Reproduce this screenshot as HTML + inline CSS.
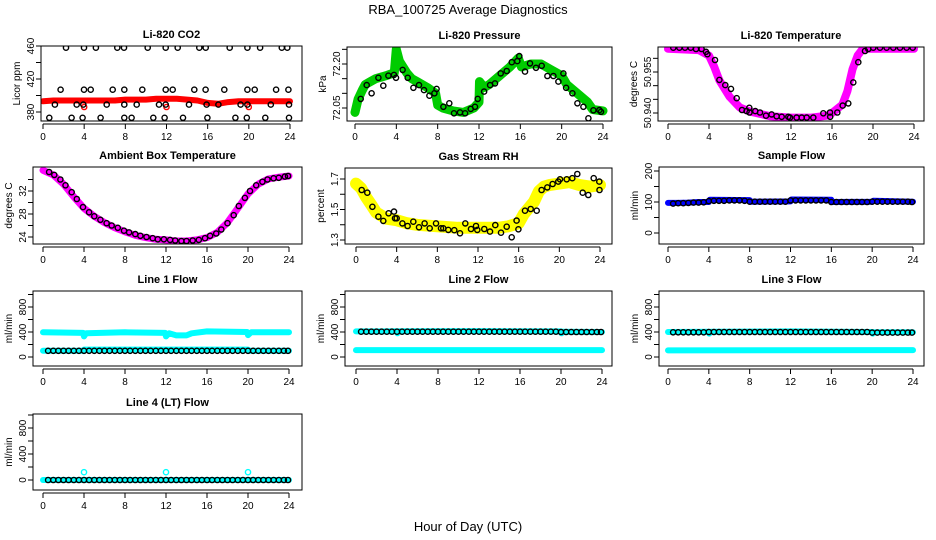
<!DOCTYPE html>
<html><head><meta charset="utf-8">
<style>
html,body{margin:0;padding:0;background:#fff;}
svg{display:block;font-family:"Liberation Sans",Arial,sans-serif;}
</style></head>
<body>
<svg id="chart" width="936" height="540" viewBox="0 0 936 540" xmlns="http://www.w3.org/2000/svg">
<text x="468" y="14" text-anchor="middle" font-size="13">RBA_100725  Average Diagnostics</text>
<text x="468" y="531" text-anchor="middle" font-size="13">Hour of Day (UTC)</text>
</svg>
<script>
const xTicks=[0,4,8,12,16,20,24];
const xTickLabels=["0","4","8","12","16","20","24"];

// CO2
const co2TraceH=[0,1,2,3,4,5,6,7,8,9,10,11,12,13,14,15,16,17,18,19,20,21,22,23,24];
const co2TraceV=[393,394,394,394,394,394,394,394,395,395,395,396,396,396,395,394,391,390,392,393,393,393,393,393,393];
const co2CircH=[2.23,3.98,5.14,7.22,7.87,10.17,11.92,13.09,15.19,15.81,18.14,19.86,21.09,23.2,23.74,
 1.71,3.98,4.63,6.77,7.9,9.65,11.92,12.6,14.7,15.8,17.62,19.86,20.57,22.65,23.84,
 1.16,3.27,3.92,6.19,7.9,9.1,11.27,11.92,14.19,15.9,17.04,19.2,19.86,22.13,23.9,
 0.61,2.78,3.85,5.6,7.9,8.61,10.72,11.82,13.6,15.97,18.69,19.8,21.6,23.9];
const co2CircV=[458,458,458,458,458,458,458,458,458,458,458,458,458,458,458,
 407,407,407,407,407,407,407,407,407,407,407,407,407,407,407,
 389,389,389,389,389,389,389,389,389,389,389,389,389,389,389,
 373,373,373,373,373,373,373,373,373,373,373,373,373,373];
const co2RedH=[4,12,20];
const co2RedV=[386,386,386];

// Pressure
const presTraceH=[0,0.3,0.7,1,1.5,2,3,3.8,4.0,4.3,5,5.5,6,7,7.8,8,8.5,9.5,10.5,11.5,12,12.05,12.5,13,14,15,15.8,16.1,17,18,19,20,20.5,21.5,22.5,23,24];
const presTraceV=[72.035,72.08,72.11,72.13,72.14,72.15,72.16,72.17,72.25,72.21,72.17,72.15,72.14,72.12,72.10,72.06,72.05,72.04,72.035,72.05,72.07,72.14,72.12,72.13,72.16,72.19,72.22,72.19,72.20,72.20,72.18,72.16,72.13,72.10,72.07,72.045,72.04];
const presCircH=[0.55,1.13,1.61,2.26,2.74,3.23,3.77,3.97,4.61,5.1,5.65,6.19,6.68,7.2,7.68,7.9,8.55,9.13,9.58,10.16,10.65,11.2,11.61,11.87,12.49,13.07,13.55,14.1,14.68,15.17,15.71,15.9,16.45,16.94,17.52,18.07,18.62,19.2,19.68,20.17,20.43,21.04,21.52,22.1,22.59,23.07,23.65,23.81];
const presCircV=[72.081,72.128,72.100,72.153,72.126,72.160,72.163,72.153,72.180,72.153,72.119,72.128,72.111,72.092,72.100,72.115,72.054,72.066,72.032,72.035,72.032,72.047,72.054,72.081,72.106,72.128,72.134,72.168,72.176,72.206,72.210,72.227,72.174,72.202,72.187,72.194,72.159,72.159,72.140,72.168,72.119,72.100,72.066,72.054,72.015,72.042,72.043,72.037];

// Temperature
const tempTraceH=[0,3,4,4.5,5,6,7,8,10,12,14,15.5,16,17,17.5,18,18.5,19,24];
const tempTraceV=[50.9635,50.963,50.961,50.957,50.952,50.946,50.942,50.9405,50.9388,50.9383,50.9383,50.939,50.940,50.943,50.948,50.956,50.961,50.9635,50.9635];
const tempCircH=[0.52,1.11,1.66,2.21,2.73,3.28,3.71,3.84,4.59,5.01,5.59,6.15,6.7,7.22,7.67,7.93,7.95,8.52,8.98,9.56,10.11,10.6,11.09,11.74,11.9,12.55,13.04,13.53,14.18,15.15,15.8,15.82,16.52,17.04,17.59,18.08,18.57,19.22,19.54,20.03,20.68,21.33,21.98,22.63,23.28,23.87];
const tempCircV=[50.9639,50.9639,50.9639,50.9639,50.9634,50.9634,50.9624,50.9615,50.9594,50.9521,50.9502,50.9488,50.9454,50.9411,50.9407,50.9419,50.9402,50.9407,50.9402,50.939,50.9395,50.9388,50.9386,50.9386,50.9383,50.9383,50.9383,50.9383,50.9383,50.9399,50.9402,50.9386,50.9402,50.9427,50.9435,50.9512,50.9586,50.9627,50.9634,50.9639,50.9639,50.9639,50.9639,50.9639,50.9639,50.9639];

// Ambient
const ambTraceH=[0,1,2,3,4,5,6,7,8,9,10,11,12,13,14,15,16,17,18,19,20,21,22,23,24];
const ambTraceV=[35.6,34.8,33.2,31.0,29.0,27.6,26.5,25.6,24.9,24.3,23.9,23.6,23.5,23.3,23.3,23.5,23.9,24.8,26.5,29.0,31.5,33.2,34.1,34.4,34.6];
const ambCircH=[0.6,1.1,1.7,2.2,2.8,3.3,3.9,4.5,5.0,5.6,6.2,6.7,7.3,7.9,8.4,9.0,9.5,10.1,10.7,11.2,11.8,12.4,12.9,13.5,14.0,14.6,15.2,15.8,16.3,16.9,17.4,18.0,18.6,19.1,19.7,20.2,20.8,21.4,21.9,22.5,23.0,23.6,23.9];
const ambCircV=[35.3,34.8,34.0,33.0,31.8,30.6,29.2,28.3,27.6,27.0,26.4,26.0,25.6,25.1,24.8,24.5,24.2,24.0,23.8,23.6,23.6,23.5,23.4,23.3,23.3,23.4,23.5,23.8,24.2,24.6,25.3,26.4,27.8,29.4,30.8,32.0,33.0,33.6,34.0,34.2,34.3,34.5,34.6];

// RH
const rhTraceH=[0,0.5,1,1.5,2,3,4,5,6,8,10,12,14,15,16,16.5,17,17.5,18,18.5,19,20,21,22,23,24];
const rhTraceV=[1.67,1.64,1.58,1.53,1.48,1.44,1.43,1.41,1.40,1.39,1.38,1.38,1.38,1.39,1.41,1.47,1.51,1.55,1.62,1.65,1.66,1.67,1.68,1.66,1.65,1.66];
const rhCircH=[0.56,1.11,1.61,2.2,2.69,3.21,3.74,3.84,4.0,4.56,5.08,5.64,6.2,6.75,7.25,7.87,8.36,8.59,9.08,9.67,10.23,10.75,11.31,11.8,11.93,12.62,13.18,13.7,14.26,14.82,15.31,15.8,15.97,16.62,17.18,17.77,18.26,18.82,19.34,19.9,20.07,20.72,21.28,21.77,22.3,22.85,23.38,23.93,23.95];
const rhCircV=[1.628,1.61,1.518,1.453,1.425,1.475,1.486,1.442,1.442,1.409,1.392,1.42,1.383,1.409,1.377,1.409,1.377,1.377,1.366,1.364,1.344,1.409,1.372,1.392,1.366,1.372,1.355,1.398,1.348,1.387,1.318,1.427,1.37,1.492,1.503,1.492,1.628,1.645,1.667,1.683,1.698,1.698,1.705,1.733,1.61,1.595,1.705,1.683,1.628];

// Flows
const flowCircH=[0.5,1.0,1.5,2.0,2.5,3.0,3.5,4.0,4.5,5.0,5.5,6.0,6.5,7.0,7.5,8.0,8.5,9.0,9.5,10.0,10.5,11.0,11.5,12.0,12.5,13.0,13.5,14.0,14.5,15.0,15.5,16.0,16.5,17.0,17.5,18.0,18.5,19.0,19.5,20.0,20.5,21.0,21.5,22.0,22.5,23.0,23.5,23.9];
const sampTraceH=[0,1,2,3,4,4.1,8,8.1,12,12.1,16,16.1,20,20.1,24];
const sampTraceV=[97,97,98,100,100,107,106,101,102,108,107,100,101,104,101];
const sampCircV=[95,96,96,97,98,98,99,103,104,104,104,105,105,105,104,101,101,101,101,101,101,101,101,105,105,105,105,105,105,105,105,100,100,100,100,100,100,100,100,101,101,101,101,101,101,101,101,100];
const l1UpH=[0,3.9,4.0,4.2,8,11.9,12.0,12.3,13,14,14.5,16,19.9,20.0,20.3,24];
const l1UpV=[395,385,330,380,395,385,330,380,345,345,380,410,400,350,395,395];
const l1LoH=[0,3.9,4,20,20.1,24];
const l1LoV=[100,100,118,118,100,100];
const l1CircV=[100,100,100,100,100,100,100,100,100,100,100,100,100,100,100,100,100,100,100,100,100,100,100,100,100,100,100,100,100,100,100,100,100,100,100,100,100,100,100,100,100,100,100,100,100,100,100,100];
const l2UpH=[0,4,4.05,4.2,12,20,20.05,20.2,24];
const l2UpV=[410,412,380,412,415,410,380,405,400];
const l2LoH=[0,24];
const l2LoV=[110,110];
const l2CircV=[405,405,405,405,405,405,405,405,405,405,405,405,405,405,405,405,405,405,405,405,405,405,405,405,405,405,405,405,405,405,405,405,405,405,405,405,405,405,405,400,400,400,400,400,400,400,400,400];
const l3UpH=[0,4,4.05,4.2,12,20,20.05,20.2,24];
const l3UpV=[400,405,375,405,410,400,375,395,395];
const l3LoH=[0,24];
const l3LoV=[105,110];
const l3CircV=[395,395,395,395,395,395,395,400,400,400,400,400,400,400,400,400,400,400,400,400,400,400,400,400,400,400,400,400,400,400,400,400,400,400,400,400,400,400,400,390,390,390,390,390,390,390,390,390];
const l4TraceH=[0,24];
const l4TraceV=[0,0];
const l4CircV=[0,0,0,0,0,0,0,0,0,0,0,0,0,0,0,0,0,0,0,0,0,0,0,0,0,0,0,0,0,0,0,0,0,0,0,0,0,0,0,0,0,0,0,0,0,0,0,0];
const l4CyanH=[4,12,20];
const l4CyanV=[120,120,120];

const svg=document.getElementById('chart');
const NS="http://www.w3.org/2000/svg";
function mk(tag,attrs,parent){const e=document.createElementNS(NS,tag);for(const k in attrs)e.setAttribute(k,attrs[k]);(parent||svg).appendChild(e);return e;}

function panel(p){
  const g=mk('g',{});
  
  
  const [bl,bt,br,bb]=p.box;
  const sx=h=>p.hx[0]+(p.hx[1]-p.hx[0])*h/24;
  const sy=v=>p.yr[1]+(v-p.yr[0])*(p.yr[3]-p.yr[1])/(p.yr[2]-p.yr[0]);
  const cid='clip-'+p.name;
  const cp=mk('clipPath',{id:cid},g);
  mk('rect',{x:bl,y:bt,width:br-bl,height:bb-bt},cp);
  const data=mk('g',{'clip-path':'url(#'+cid+')'},g);
  (p.traces||[]).forEach(t=>{
    const pts=t.h.map((h,i)=>sx(h).toFixed(1)+','+sy(t.v[i]).toFixed(1)).join(' ');
    const pl=mk('polyline',{points:pts,fill:'none',stroke:t.color,'stroke-width':t.w,'stroke-linejoin':'round','stroke-linecap':'round'},data);
    
    
  });
  (p.circles||[]).forEach(c=>{
    c.h.forEach((h,i)=>{
      const e=mk('circle',{cx:sx(h).toFixed(1),cy:sy(c.v[i]).toFixed(1),r:2.6,fill:'none',stroke:c.color,'stroke-width':1.4},data);
      
      
    });
  });
  const box=mk('rect',{x:bl,y:bt,width:br-bl,height:bb-bt,fill:'none',stroke:'#000','stroke-width':1},g);
  
  
  const xa=mk('g',{},g);
  
  
  mk('line',{x1:sx(0),y1:bb+3,x2:sx(24),y2:bb+3,stroke:'#000'},xa);
  xTicks.forEach((t,i)=>{
    mk('line',{x1:sx(t),y1:bb+3,x2:sx(t),y2:bb+8,stroke:'#000'},xa);
    const tx=mk('text',{x:sx(t),y:bb+19,'text-anchor':'middle','font-size':10},xa);
    tx.textContent=xTickLabels[i];
    
    
  });
  const ya=mk('g',{},g);
  
  
  mk('line',{x1:bl,y1:sy(p.yt[0]),x2:bl,y2:sy(p.yt[p.yt.length-1]),stroke:'#000'},ya);
  p.yt.forEach((t,i)=>{
    const y=sy(t);
    mk('line',{x1:bl,y1:y,x2:bl-5,y2:y,stroke:'#000'},ya);
    if(p.yl[i]){
      const tx=mk('text',{x:bl-7,y:y,'text-anchor':'middle','font-size':10,transform:'rotate(-90 '+(bl-7)+' '+y+')'},ya);
      tx.textContent=p.yl[i];
      
      
    }
  });
  const yt=mk('text',{x:bl-21,y:(bt+bb)/2,'text-anchor':'middle','font-size':10,transform:'rotate(-90 '+(bl-21)+' '+((bt+bb)/2)+')'},g);
  yt.textContent=p.ytitle;
  
  
  const ti=mk('text',{x:(bl+br)/2,y:bt-8,'text-anchor':'middle','font-size':11,'font-weight':'bold'},g);
  ti.textContent=p.title;
  
  
}

const flowTicks=[0,200,400,600,800,1000];
const flowLabels=["0","","400","","800",""];

panel({name:'co2-panel',title:'Li-820 CO2',ytitle:'Licor ppm',box:[41,46,302,121],hx:[43,290],yr:[380,112,460,46],
  yt:[380,400,420,440,460],yl:["380","","420","","460"],
  traces:[{name:'co2-series',h:co2TraceH,v:co2TraceV,color:'#ff0000',w:6}],
  circles:[{name:'co2-red-point',h:co2RedH,v:co2RedV,color:'#ff0000'},{name:'co2-average-point',h:co2CircH,v:co2CircV,color:'#000'}]});
panel({name:'pressure-panel',title:'Li-820 Pressure',ytitle:'kPa',box:[347,47,612,121],hx:[355,603],yr:[72.05,108,72.20,64],
  yt:[72.05,72.10,72.15,72.20,72.25],yl:["72.05","","","72.20",""],
  traces:[{name:'pressure-series',h:presTraceH,v:presTraceV,color:'#00cc00',w:9}],
  circles:[{name:'pressure-average-point',h:presCircH,v:presCircV,color:'#000'}]});
panel({name:'temperature-panel',title:'Li-820 Temperature',ytitle:'degrees C',box:[658,47,924,121],hx:[668,914],yr:[50.940,113,50.955,72],
  yt:[50.940,50.945,50.950,50.955,50.960],yl:["50.940","","","50.955",""],
  traces:[{name:'temperature-series',h:tempTraceH,v:tempTraceV,color:'#ff00ff',w:8}],
  circles:[{name:'temperature-average-point',h:tempCircH,v:tempCircV,color:'#000'}]});
panel({name:'ambient-panel',title:'Ambient Box Temperature',ytitle:'degrees C',box:[33,167,302,244],hx:[43,289],yr:[24,237,32,191],
  yt:[24,26,28,30,32,34],yl:["24","","28","","32",""],
  traces:[{name:'ambient-series',h:ambTraceH,v:ambTraceV,color:'#ff00ff',w:7}],
  circles:[{name:'ambient-average-point',h:ambCircH,v:ambCircV,color:'#000'}]});
panel({name:'rh-panel',title:'Gas Stream RH',ytitle:'percent',box:[345,168,612,244],hx:[356,600],yr:[1.3,240,1.7,179],
  yt:[1.3,1.4,1.5,1.6,1.7],yl:["1.3","","1.5","","1.7"],
  traces:[{name:'rh-series',h:rhTraceH,v:rhTraceV,color:'#ffff00',w:12}],
  circles:[{name:'rh-average-point',h:rhCircH,v:rhCircV,color:'#000'}]});
panel({name:'sample-flow-panel',title:'Sample Flow',ytitle:'ml/min',box:[659,167,924,244],hx:[668,913],yr:[0,233,200,171],
  yt:[0,50,100,150,200],yl:["0","","100","","200"],
  traces:[{name:'sample-flow-series',h:sampTraceH,v:sampTraceV,color:'#0000ff',w:6}],
  circles:[{name:'sample-flow-average-point',h:flowCircH,v:sampCircV,color:'#000'}]});
panel({name:'line1-panel',title:'Line 1 Flow',ytitle:'ml/min',box:[33,291,302,366],hx:[43,289],yr:[0,357,800,307],
  yt:flowTicks,yl:flowLabels,
  traces:[{name:'line1-upper-series',h:l1UpH,v:l1UpV,color:'#00ffff',w:6},{name:'line1-lower-series',h:l1LoH,v:l1LoV,color:'#00ffff',w:6}],
  circles:[{name:'line1-average-point',h:flowCircH,v:l1CircV,color:'#000'}]});
panel({name:'line2-panel',title:'Line 2 Flow',ytitle:'ml/min',box:[345,291,612,366],hx:[356,602],yr:[0,357,800,307],
  yt:flowTicks,yl:flowLabels,
  traces:[{name:'line2-upper-series',h:l2UpH,v:l2UpV,color:'#00ffff',w:6},{name:'line2-lower-series',h:l2LoH,v:l2LoV,color:'#00ffff',w:6}],
  circles:[{name:'line2-average-point',h:flowCircH,v:l2CircV,color:'#000'}]});
panel({name:'line3-panel',title:'Line 3 Flow',ytitle:'ml/min',box:[659,291,924,366],hx:[668,913],yr:[0,357,800,307],
  yt:flowTicks,yl:flowLabels,
  traces:[{name:'line3-upper-series',h:l3UpH,v:l3UpV,color:'#00ffff',w:6},{name:'line3-lower-series',h:l3LoH,v:l3LoV,color:'#00ffff',w:6}],
  circles:[{name:'line3-average-point',h:flowCircH,v:l3CircV,color:'#000'}]});
panel({name:'line4-panel',title:'Line 4 (LT) Flow',ytitle:'ml/min',box:[33,414,302,490],hx:[43,289],yr:[0,480,800,428],
  yt:flowTicks,yl:flowLabels,
  traces:[{name:'line4-series',h:l4TraceH,v:l4TraceV,color:'#00ffff',w:6}],
  circles:[{name:'line4-cyan-point',h:l4CyanH,v:l4CyanV,color:'#00ffff'},{name:'line4-average-point',h:flowCircH,v:l4CircV,color:'#000'}]});
</script>
</body></html>
